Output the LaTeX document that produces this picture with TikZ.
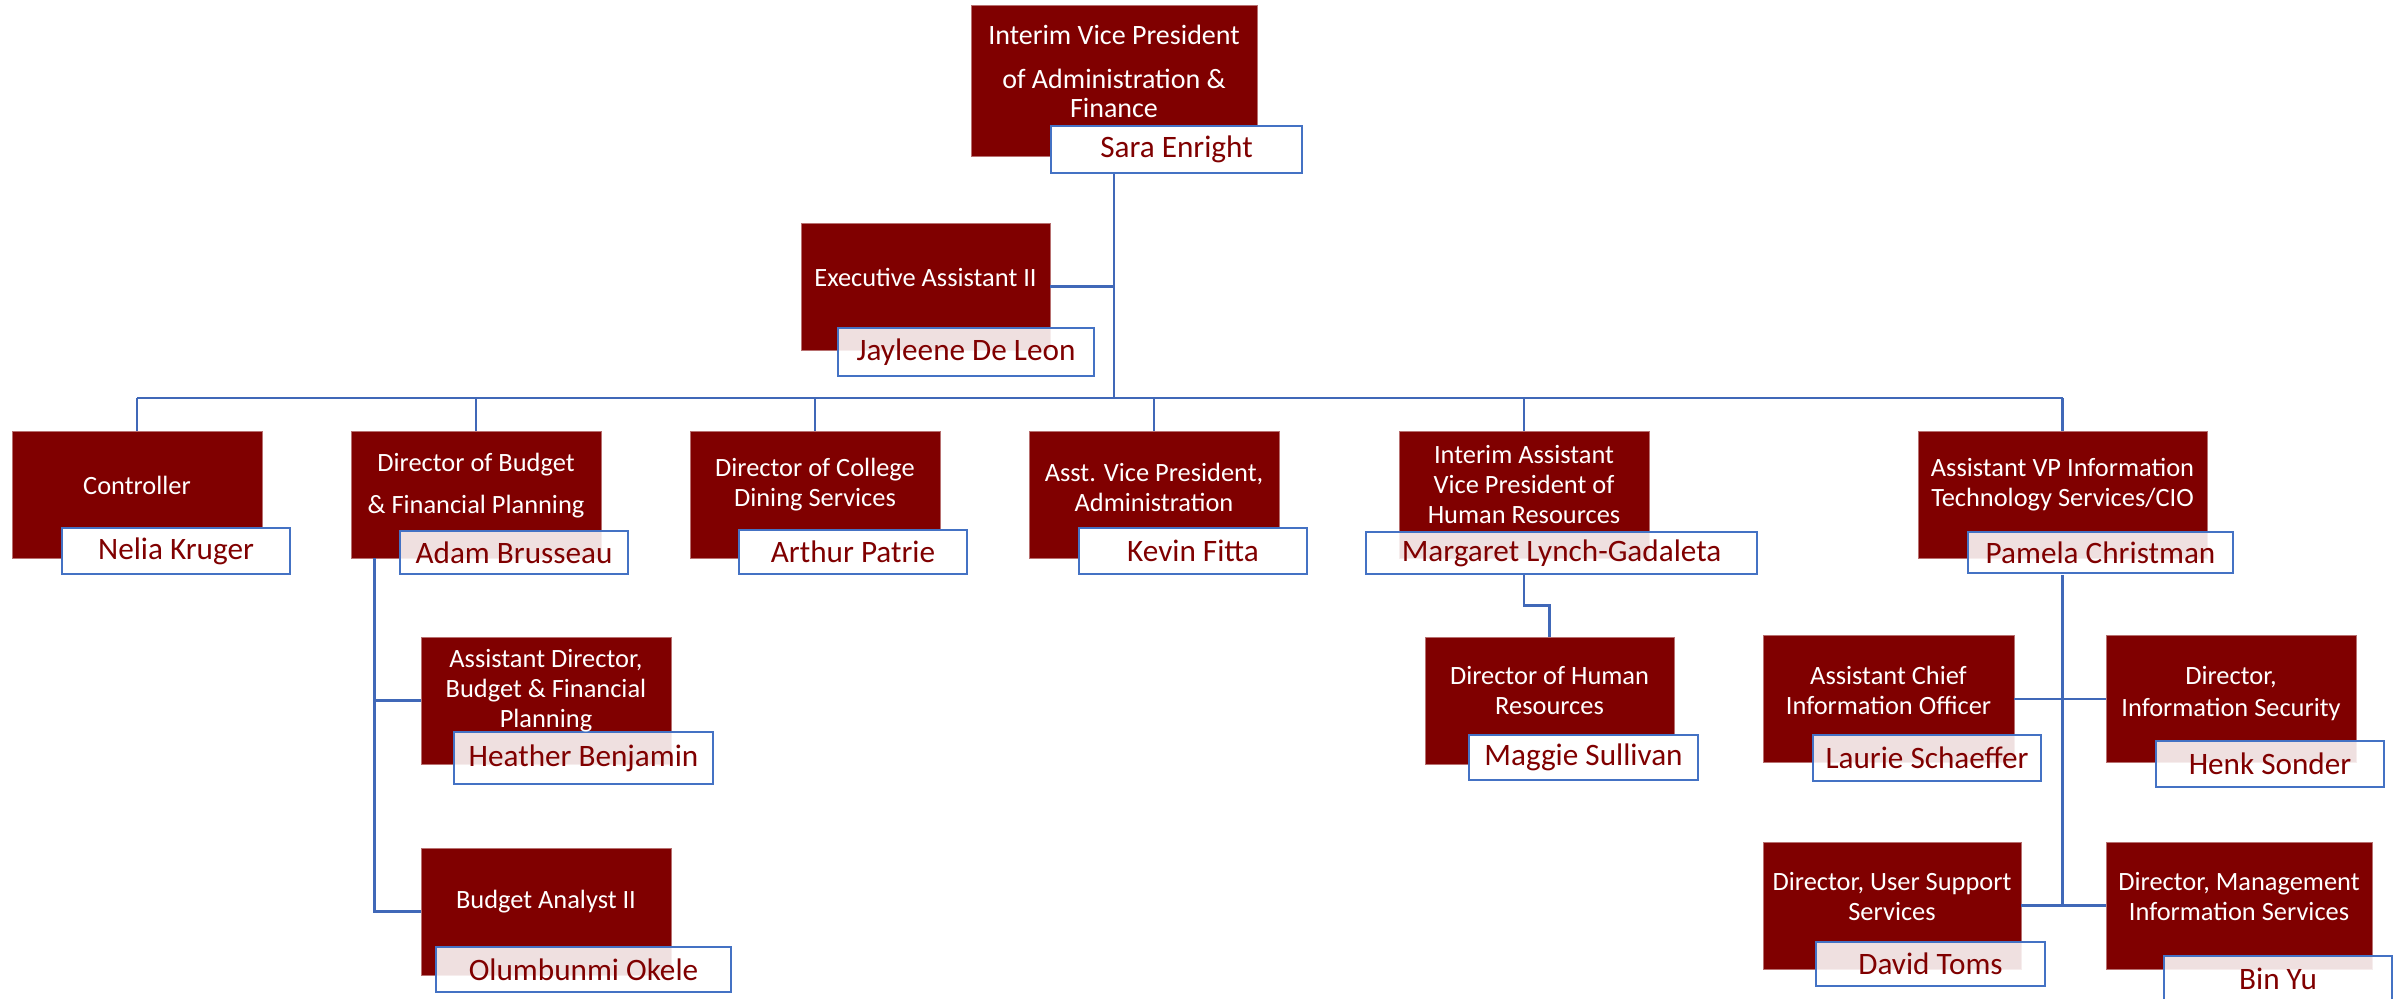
\documentclass[tikz,border=0pt]{standalone}
\usepackage{fontspec}
\setmainfont{Carlito}
\definecolor{orgred}{HTML}{800000}
\definecolor{orgblue}{HTML}{4472C4}
\definecolor{lineblue}{HTML}{4068B8}
\definecolor{edgered}{HTML}{B87070}
\tikzset{
  redbox/.style={fill=orgred, draw=edgered, line width=0.4pt, inner sep=0pt, minimum height=63.5pt},
  namebox/.style={draw=orgblue, line width=1.2pt, fill=white, inner sep=0pt, text=orgred,
    font=\fontsize{15.6}{18}\selectfont, minimum height=23pt},
  glassbox/.style={namebox, fill opacity=0.88, text opacity=1},
  ttl/.style={text=white, align=center, font=\fontsize{13.2}{15}\selectfont, inner sep=0pt},
  conn/.style={draw=lineblue, line width=1.4pt},
}
\begin{document}
\begin{tikzpicture}[x=0.5pt, y=-0.5pt]
\useasboundingbox (0,0) rectangle (2402,998);
\clip (0,0) rectangle (2402,998);
\fill[white] (0,0) rectangle (2402,998);
% red boxes
\node[redbox, minimum width=143pt, minimum height=75.5pt] (vp) at (1114,80.5) {};
\node[redbox, minimum width=124.5pt] (exec) at (925.5,286.5) {};
\node[redbox, minimum width=125pt] (ctrl) at (137,494.5) {};
\node[redbox, minimum width=125pt] (budget) at (476,494.5) {};
\node[redbox, minimum width=125pt] (dining) at (815,494.5) {};
\node[redbox, minimum width=125pt] (avp) at (1154,494.5) {};
\node[redbox, minimum width=125pt] (hr) at (1524,494.5) {};
\node[redbox, minimum width=144.5pt] (cio) at (2062.5,494.5) {};
\node[redbox, minimum width=125pt] (asstdir) at (546,700.5) {};
\node[redbox, minimum width=125pt] (analyst) at (546,911.5) {};
\node[redbox, minimum width=124.5pt] (dirhr) at (1549.5,700.5) {};
\node[redbox, minimum width=125.5pt] (acio) at (1888.5,699) {};
\node[redbox, minimum width=125pt] (infosec) at (2231,699) {};
\node[redbox, minimum width=129pt] (usersup) at (1892,905.5) {};
\node[redbox, minimum width=133pt] (mis) at (2239,905.5) {};
% name boxes
\node[namebox, minimum width=125.5pt, minimum height=23.5pt] (sara) at (1176.5,149.5) {Sara Enright};
\node[glassbox, minimum width=128pt, minimum height=24pt] (jay) at (966,352) {Jayleene De Leon};
\node[namebox, minimum width=114pt] (nelia) at (176,551) {Nelia Kruger};
\node[glassbox, minimum width=114pt, minimum height=21.5pt] (adam) at (514,552.5) {Adam Brusseau};
\node[namebox, minimum width=114pt, minimum height=22pt] (arthur) at (853,552) {Arthur Patrie};
\node[namebox, minimum width=114pt] (kevin) at (1193,551) {Kevin Fitta};
\coordinate (bus) at (0,398);
% connectors
\draw[conn] (vp.center |- sara.south) -- (vp.center |- bus);
\draw[conn] (exec.east) -- (exec.east -| vp.center);
\draw[conn] (ctrl.north |- bus) -- (cio.north |- bus);
\foreach \b in {ctrl,budget,dining,avp,hr,cio}{
  \draw[conn] (\b.north |- bus) -- (\b.north);
}
\coordinate (bv) at ([xshift=12pt]budget.south west);
\draw[conn] (bv) -- (bv |- analyst.west) -- (analyst.west);
\draw[conn] (bv |- asstdir.west) -- (asstdir.west);
\coordinate (hrtop) at (hr.center |- adam.south);
\draw[conn] (hrtop) -- ++(0,30) -| (dirhr.north);
\coordinate (ciotop) at (cio.center |- adam.south);
\draw[conn] (ciotop) -- (ciotop |- usersup.east);
\draw[conn] (acio.east) -- (infosec.west);
\draw[conn] (usersup.east) -- (mis.west);
% translucent name boxes over lines
\node[glassbox, minimum width=195.5pt, minimum height=21pt] (marg) at (1561.5,553) {Margaret Lynch-Gadaleta};
\node[glassbox, minimum width=132.5pt, minimum height=20.5pt] (pam) at (2100.5,552.5) {Pamela Christman};
\node[glassbox, minimum width=129.5pt, minimum height=26pt] (heather) at (583.5,758) {Heather Benjamin};
\node[glassbox, minimum width=147.5pt, minimum height=22.5pt] (olu) at (583.5,969.5) {Olumbunmi Okele};
\node[namebox, minimum width=114.5pt, minimum height=22.5pt] (maggie) at (1583.5,757.5) {Maggie Sullivan};
\node[glassbox, minimum width=114pt] (laurie) at (1927,758) {Laurie Schaeffer};
\node[glassbox, minimum width=114pt] (henk) at (2270,764) {Henk Sonder};
\node[glassbox, minimum width=114.5pt, minimum height=22pt] (david) at (1930.5,964) {David Toms};
\node[glassbox, minimum width=114pt] (binyu) at (2278,979) {Bin Yu};
% titles
\node[ttl, font=\fontsize{14}{14.5}\selectfont] (vpT) at (1114,71) {Interim Vice President\\[7.5pt]of Administration \&\\Finance};
\node[ttl] (execT) at (925.5,277) {Executive Assistant II};
\node[ttl] (ctrlT) at (137,485) {Controller};
\node[ttl] (budgetT) at (476,486) {Director of Budget\\[6pt]\& Financial Planning};
\node[ttl] (diningT) at (815,485) {Director of College\\Dining Services};
\node[ttl] (avpT) at (1154,487) {Asst. Vice President,\\Administration};
\node[ttl] (hrT) at (1524,484) {Interim Assistant\\Vice President of\\Human Resources};
\node[ttl] (cioT) at (2062.5,485) {Assistant VP Information\\Technology Services/CIO};
\node[ttl] (asstdirT) at (546,691) {Assistant Director,\\Budget \& Financial\\Planning};
\node[ttl] (analystT) at (546,902) {Budget Analyst II};
\node[ttl] (dirhrT) at (1549.5,690) {Director of Human\\Resources};
\node[ttl] (acioT) at (1888.5,690) {Assistant Chief\\Information Officer};
\node[ttl] (infosecT) at (2231,694) {Director,\\[1pt]Information Security};
\node[ttl] (usersupT) at (1892,896) {Director, User Support\\Services};
\node[ttl] (misT) at (2239,896) {Director, Management\\Information Services};
\end{tikzpicture}
\end{document}
